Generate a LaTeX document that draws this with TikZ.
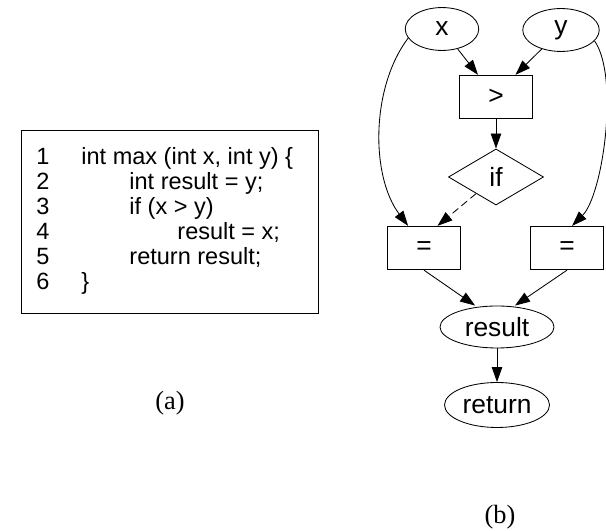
\documentclass[tikz,border=0pt]{standalone}
\usepackage{fontspec}
\setmainfont{Liberation Sans}
\newfontfamily\capfont{Liberation Serif}
\usetikzlibrary{arrows.meta, shapes.geometric}

\begin{document}
\begin{tikzpicture}[>={Triangle[length=0.5cm, width=0.35cm]}, line width=0.8pt,
  opbox/.style={draw, rectangle, font=\fontsize{25}{29}\selectfont, inner sep=0pt,
                minimum width=2.43cm, minimum height=1.45cm},
  varnode/.style={draw, ellipse, font=\fontsize{25}{29}\selectfont, inner sep=0pt,
                  minimum width=2.45cm, minimum height=1.43cm},
  codeline/.style={anchor=base west, inner sep=0pt, font=\fontsize{22.3}{25}\selectfont},
  caption/.style={font=\capfont\fontsize{25}{29}\selectfont}
]

% Bounding box
\useasboundingbox (0,0) rectangle (20.2,17.7);

% (a) Source listing
\draw (0.7,13.367) rectangle (10.6,7.267);
\foreach \n/\ind/\txt in {1/0/{int max (int x, int y) \{}, 2/1/{int result = y;},
    3/1/{if (x > y)}, 4/2/{result = x;}, 5/1/{return result;}, 6/0/{\}}} {
  \node[codeline] (num-\n) at (1.2, {13.0333-0.8333*\n}) {\n};
  \node[codeline] (code-\n) at ({2.7+1.6*\ind}, {13.0333-0.8333*\n}) {\txt};
}
\node[caption] (cap-a) at (5.667,4.267) {(a)};

% (b) Dependence graph
\node[varnode] (var-x) at (14.733,16.733) {x};
\node[varnode, minimum width=2.55cm] (var-y) at (18.7,16.7) {y};
\node[opbox] (op-gt) at (16.533,14.467) {>};
\node[draw, diamond, aspect=1.7, inner sep=0pt, minimum width=3.17cm, minimum height=1.87cm,
      font=\fontsize{25}{29}\selectfont] (cond-if) at (16.533,11.8) {if};
\node[opbox] (assign-left) at (14.133,9.433) {=};
\node[opbox] (assign-right) at (18.9,9.433) {=};
\node[varnode, minimum width=3.8cm, minimum height=1.4cm] (var-result) at (16.567,6.8) {result};
\node[varnode, minimum width=3.5cm, minimum height=1.5cm] (ret) at (16.567,4.2) {return};
\node[caption] (cap-b) at (16.667,0.467) {(b)};

% Edges
\draw[->] (var-x) -- ([xshift=-0.6cm]op-gt.north);
\draw[->] (var-y) -- ([xshift=0.65cm]op-gt.north);
\draw[->] (op-gt) -- (cond-if);
\draw[->, dash pattern=on 7pt off 4pt] (cond-if) -- ([xshift=0.45cm]assign-left.north);
\draw[->] (var-x.195) to[out=233, in=127, looseness=0.85] ([xshift=-0.53cm]assign-left.north);
\draw[->] (var-y.-18) to[out=-55, in=45, looseness=0.6] ([xshift=0.17cm]assign-right.north);
\draw[->] (assign-left.south) -- ([xshift=-0.73cm]var-result.north);
\draw[->] (assign-right.south) -- ([xshift=0.6cm]var-result.north);
\draw[->] (var-result) -- (ret);

\end{tikzpicture}
\end{document}
